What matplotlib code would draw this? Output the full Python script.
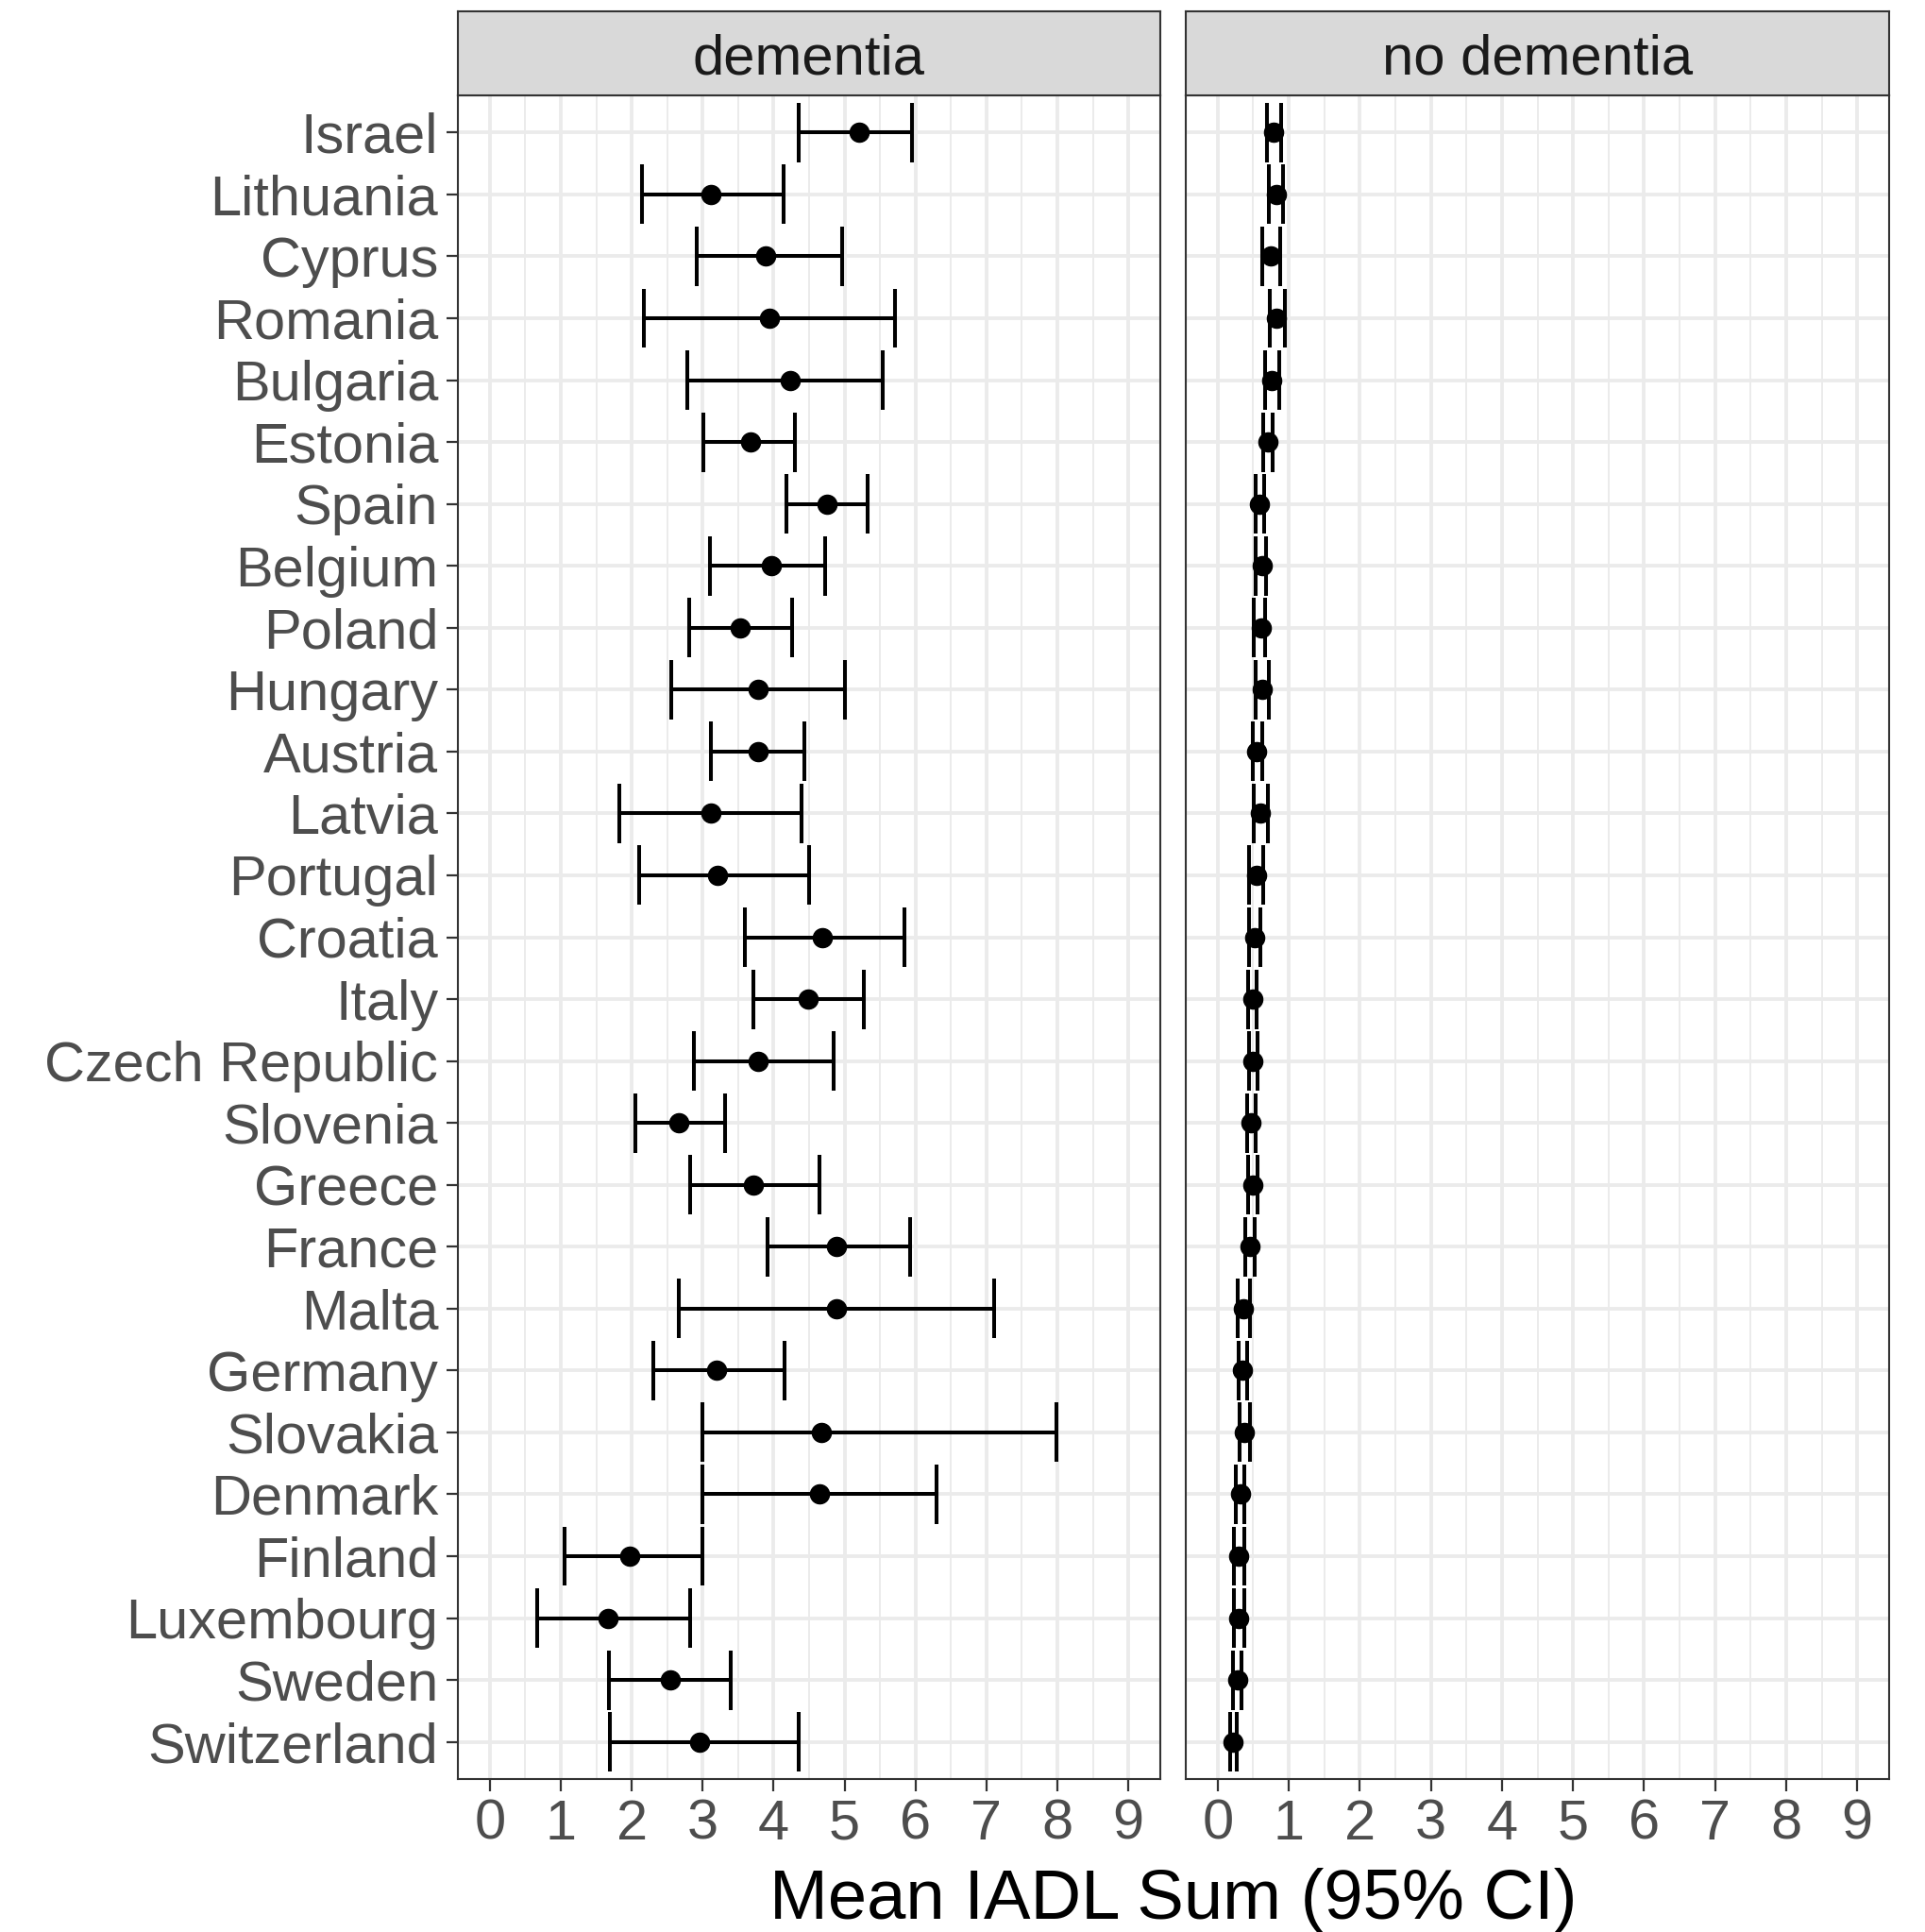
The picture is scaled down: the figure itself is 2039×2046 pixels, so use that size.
import numpy as np
import matplotlib.pyplot as plt
from matplotlib.ticker import MultipleLocator

plt.rcParams['font.family'] = ['Liberation Sans', 'DejaVu Sans']

countries = ["Israel", "Lithuania", "Cyprus", "Romania", "Bulgaria", "Estonia", "Spain",
             "Belgium", "Poland", "Hungary", "Austria", "Latvia", "Portugal", "Croatia",
             "Italy", "Czech Republic", "Slovenia", "Greece", "France", "Malta", "Germany",
             "Slovakia", "Denmark", "Finland", "Luxembourg", "Sweden", "Switzerland"]

# dementia: mean and 95% CI
dem_mean = [5.21, 3.12, 3.89, 3.94, 4.23, 3.67, 4.75, 3.97, 3.53, 3.78, 3.78, 3.12, 3.21, 4.69,
            4.49, 3.78, 2.67, 3.71, 4.88, 4.89, 3.20, 4.67, 4.65, 1.97, 1.67, 2.55, 2.96]
dem_lo = [4.35, 2.14, 2.92, 2.17, 2.78, 3.01, 4.18, 3.10, 2.81, 2.56, 3.12, 1.83, 2.11, 3.60,
          3.71, 2.87, 2.05, 2.83, 3.91, 2.66, 2.30, 3.00, 3.00, 1.06, 0.67, 1.68, 1.69]
dem_hi = [5.95, 4.14, 4.97, 5.71, 5.54, 4.30, 5.33, 4.73, 4.26, 5.00, 4.43, 4.39, 4.50, 5.85,
          5.27, 4.84, 3.32, 4.64, 5.92, 7.11, 4.16, 7.99, 6.29, 3.00, 2.83, 3.39, 4.36]

# no dementia: mean and 95% CI
nodem_mean = [0.79, 0.82, 0.75, 0.83, 0.76, 0.71, 0.59, 0.62, 0.61, 0.63, 0.55, 0.60, 0.54, 0.52,
              0.49, 0.50, 0.47, 0.49, 0.46, 0.36, 0.35, 0.38, 0.32, 0.30, 0.29, 0.28, 0.22]
nodem_lo = [0.69, 0.72, 0.63, 0.73, 0.67, 0.64, 0.53, 0.53, 0.51, 0.53, 0.49, 0.51, 0.44, 0.44,
            0.43, 0.44, 0.41, 0.43, 0.39, 0.28, 0.30, 0.31, 0.26, 0.23, 0.23, 0.21, 0.18]
nodem_hi = [0.89, 0.92, 0.88, 0.94, 0.86, 0.77, 0.65, 0.68, 0.66, 0.72, 0.62, 0.70, 0.64, 0.60,
            0.55, 0.56, 0.53, 0.56, 0.52, 0.45, 0.42, 0.45, 0.38, 0.37, 0.37, 0.34, 0.27]

W, H = 2040, 2046
fig = plt.figure(figsize=(W / 100, H / 100), dpi=100)


def box(x0, y0, x1, y1):
    # pixel box (from top-left) -> figure fraction rect
    return [x0 / W, 1 - y1 / H, (x1 - x0) / W, (y1 - y0) / H]


ypos = np.arange(len(countries), 0, -1)  # Israel at top

panels = [
    ("dementia", dem_mean, dem_lo, dem_hi, 485, 1229),
    ("no dementia", nodem_mean, nodem_lo, nodem_hi, 1256, 2001),
]

for i, (title, mean, lo, hi, x0, x1) in enumerate(panels):
    ax = fig.add_axes(box(x0, 101, x1, 1884))
    ax.set_xlim(-0.45, 9.45)
    ax.set_ylim(0.4, len(countries) + 0.6)
    ax.xaxis.set_major_locator(MultipleLocator(1))
    ax.xaxis.set_minor_locator(MultipleLocator(0.5))
    ax.set_yticks(ypos)

    ax.grid(which="major", color="#EBEBEB", lw=2.8)
    ax.grid(which="minor", axis="x", color="#EBEBEB", lw=1.4)
    ax.set_axisbelow(True)

    # error bars with caps spanning the row
    ax.hlines(ypos, lo, hi, color="black", lw=2.9)
    ax.vlines(lo, ypos - 0.48, ypos + 0.48, color="black", lw=2.9)
    ax.vlines(hi, ypos - 0.48, ypos + 0.48, color="black", lw=2.9)
    ax.plot(mean, ypos, "o", color="black", ms=14.5, zorder=3)

    for s in ax.spines.values():
        s.set_color("#333333")
        s.set_linewidth(1.5)

    ax.tick_params(which="major", length=9, width=1.6, color="#333333",
                   labelsize=42.8, labelcolor="#4D4D4D", pad=6)
    ax.tick_params(which="minor", length=0)
    if i == 0:
        ax.set_yticklabels(countries)
    else:
        ax.tick_params(axis="y", left=False, labelleft=False)

    # facet strip
    strip = fig.add_axes(box(x0, 12, x1, 101))
    strip.set_facecolor("#D9D9D9")
    strip.set_xticks([])
    strip.set_yticks([])
    for s in strip.spines.values():
        s.set_color("#333333")
        s.set_linewidth(1.5)
    strip.text(0.5, 0.25, title, ha="center", va="baseline", fontsize=43,
               color="#1A1A1A", transform=strip.transAxes)

fig.text((485 + 2001) / 2 / W, 1 - 2032 / H, "Mean IADL Sum (95% CI)",
         ha="center", va="baseline", fontsize=53.5, color="black")

fig.savefig("out.png", dpi=100)
